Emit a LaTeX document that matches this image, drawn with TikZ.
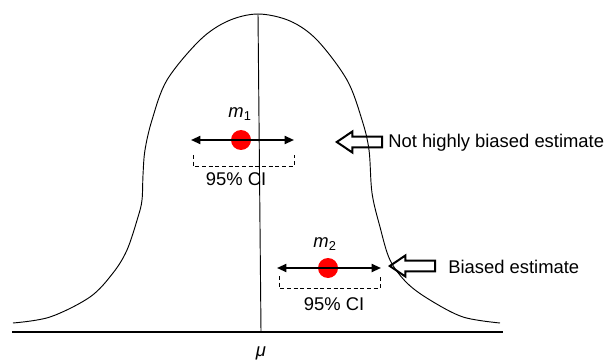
\documentclass[tikz,border=0pt]{standalone}
\usepackage{fontspec}
\setmainfont{Liberation Sans}
\usetikzlibrary{arrows.meta,shapes.arrows,positioning}
\tikzset{>={Triangle[length=7pt,width=6pt]}}

\begin{document}
\begin{tikzpicture}[x=0.75pt, y=-0.75pt,
    dot/.style={circle, fill=red, inner sep=0pt, minimum size=15pt},
    ci/.style={line width=0.6pt, dash pattern=on 3pt off 2pt},
    est/.style={<->, line width=1.4pt},
    hollow/.style={single arrow, draw, line width=1.5pt, shape border rotate=180,
      inner sep=3.3pt, single arrow head extend=3.8pt, single arrow tip angle=68,
      minimum height=34pt},
    lbl/.style={font=\fontsize{13.8}{16}\selectfont, inner sep=0pt}]
  \useasboundingbox (0,0) rectangle (605,363);

  % axis and bell curve
  \coordinate (axl) at (12,332);
  \coordinate (axr) at (503,332);
  \draw[line width=1.5pt] (axl) -- (axr);
  \draw[line width=0.7pt] plot[smooth, tension=0.55] coordinates {
    (13,323) (50,317) (90,297) (113,273) (127,250) (138,217) (142,200)
    (143,175) (145,150) (152,120) (167,80) (200,40) (228,21) (258,14)
    (290,21) (317,40) (347,80) (362,120) (369,150) (372,193)
    (380,227) (390,260) (407,283) (430,300) (463,317) (500,323)};

  % mean line
  \coordinate (top) at (258,14);
  \coordinate (mu) at (261,332);
  \draw[line width=0.7pt] (top) -- (mu);
  \node[lbl, below=11pt of mu] (mulbl) {\itshape μ};

  % first estimate
  \node[dot] (m1) at (241,140) {};
  \coordinate (m1l) at (191,140);
  \coordinate (m1r) at (294,140);
  \draw[est] (m1l) -- (m1r);
  \node[lbl] (m1lbl) at (240,114) {\itshape m\textsubscript{\upshape 1}};
  \draw[ci] (193,155) -- (193,166) -- (294,166) -- (294,155);
  \node[lbl] (ci1) at (236,179) {95\% CI};

  % second estimate
  \node[dot] (m2) at (328,268) {};
  \coordinate (m2l) at (277,268);
  \coordinate (m2r) at (381,268);
  \draw[est] (m2l) -- (m2r);
  \node[lbl] (m2lbl) at (325,244) {\itshape m\textsubscript{\upshape 2}};
  \draw[ci] (279,276) -- (279,288) -- (380,288) -- (380,276);
  \node[lbl] (ci2) at (334,304) {95\% CI};

  % pointers
  \node[hollow, anchor=tip] (h1) at (335,142) {};
  \node[lbl, anchor=west] (t1) at (388,143) {Not highly biased estimate};
  \node[hollow, anchor=tip] (h2) at (388,266) {};
  \node[lbl, anchor=west] (t2) at (448,267) {Biased estimate};
\end{tikzpicture}
\end{document}
